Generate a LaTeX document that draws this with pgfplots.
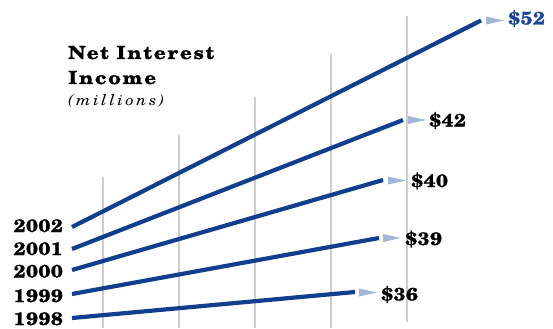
\documentclass[border=0pt]{standalone}
\usepackage{pgfplots}
\pgfplotsset{compat=1.18}
\usepackage{fontspec}
\setmainfont{TeX Gyre Schola}
\newfontfamily\numfont[FakeStretch=1.15, LetterSpace=3, FakeBold=1.2]{TeX Gyre Schola}
\newfontfamily\titfont[FakeStretch=1.15, LetterSpace=9.5, FakeBold=1.2]{TeX Gyre Schola}
\newfontfamily\subfont[FakeStretch=1.1, LetterSpace=17]{TeX Gyre Schola}
\definecolor{lineblue}{HTML}{123E8E}
\definecolor{arrowblue}{HTML}{A3B6DA}
\definecolor{gridgray}{HTML}{CDCDCD}
\definecolor{labelblue}{HTML}{1D4597}
\begin{document}
\begin{tikzpicture}
\begin{axis}[scale only axis, width=553pt, height=328pt,
  xmin=0, xmax=553, ymin=0, ymax=328, y dir=reverse,
  hide axis, clip=false]
\path (rel axis cs:0,0) rectangle (rel axis cs:1,1);
% grid lines
\addplot[gridgray, line width=1.3pt] coordinates {(103,177) (103,328)};
\addplot[gridgray, line width=1.3pt] coordinates {(179,135) (179,328)};
\addplot[gridgray, line width=1.3pt] coordinates {(255,97) (255,328)};
\addplot[gridgray, line width=1.3pt] coordinates {(331,54) (331,328)};
\addplot[gridgray, line width=1.3pt] coordinates {(407,16) (407,322)};
% series lines (start: year position, end: value position)
\addplot[lineblue, line width=4.2pt] coordinates {(72,318) (355,292)};
\addplot[lineblue, line width=4.2pt] coordinates {(72,294) (379,238)};
\addplot[lineblue, line width=4.2pt] coordinates {(72,270) (383,180)};
\addplot[lineblue, line width=4.2pt] coordinates {(72,249) (403,120)};
\addplot[lineblue, line width=4.2pt] coordinates {(72,227) (481,20.5)};
% arrow heads
\addplot[fill=arrowblue, draw=none] coordinates {(359,288.5) (377,292.5) (359,296.5)} -- cycle;
\addplot[fill=arrowblue, draw=none] coordinates {(383,234) (401,238) (383,242)} -- cycle;
\addplot[fill=arrowblue, draw=none] coordinates {(388,176.5) (406,180.5) (388,184.5)} -- cycle;
\addplot[fill=arrowblue, draw=none] coordinates {(408,116) (426,120) (408,124)} -- cycle;
\addplot[fill=arrowblue, draw=none] coordinates {(486,16.5) (504,20.5) (486,24.5)} -- cycle;
% title
\node[anchor=base west, inner sep=0pt, font={\fontsize{18}{20}\titfont\bfseries}] at (axis cs:68,59) {Net Interest};
\node[anchor=base west, inner sep=0pt, font={\fontsize{18}{20}\titfont\bfseries}] at (axis cs:68,84) {Income};
\node[anchor=base west, inner sep=0pt, font={\fontsize{15}{17}\subfont\itshape}] at (axis cs:68,105) {(millions)};
% year labels
\node[anchor=base east, inner sep=0pt, font={\fontsize{18}{20}\numfont\bfseries}] at (axis cs:63,232) {2002};
\node[anchor=base east, inner sep=0pt, font={\fontsize{18}{20}\numfont\bfseries}] at (axis cs:63,255) {2001};
\node[anchor=base east, inner sep=0pt, font={\fontsize{18}{20}\numfont\bfseries}] at (axis cs:63,277.5) {2000};
\node[anchor=base east, inner sep=0pt, font={\fontsize{18}{20}\numfont\bfseries}] at (axis cs:63,302) {1999};
\node[anchor=base east, inner sep=0pt, font={\fontsize{18}{20}\numfont\bfseries}] at (axis cs:63,325) {1998};
% value labels
\node[anchor=base west, inner sep=0pt, text=labelblue, font={\fontsize{18}{20}\numfont\bfseries}] at (axis cs:508,24.5) {\$52};
\node[anchor=base west, inner sep=0pt, font={\fontsize{18}{20}\numfont\bfseries}] at (axis cs:429,126.5) {\$42};
\node[anchor=base west, inner sep=0pt, font={\fontsize{18}{20}\numfont\bfseries}] at (axis cs:411,187) {\$40};
\node[anchor=base west, inner sep=0pt, font={\fontsize{18}{20}\numfont\bfseries}] at (axis cs:405,245) {\$39};
\node[anchor=base west, inner sep=0pt, font={\fontsize{18}{20}\numfont\bfseries}] at (axis cs:381,300.5) {\$36};
\end{axis}
\end{tikzpicture}
\end{document}
